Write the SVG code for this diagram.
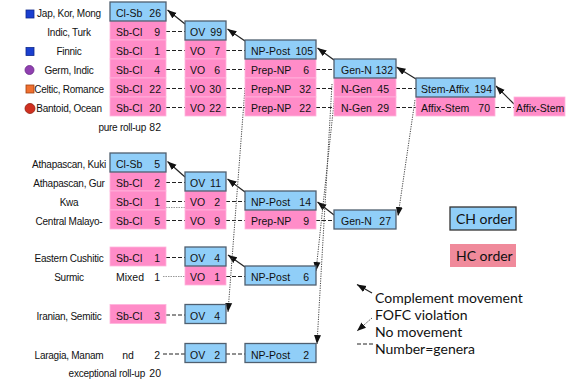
<svg xmlns="http://www.w3.org/2000/svg" width="576" height="380" viewBox="0 0 576 380">
<style>
.ch{fill:#90cef8;stroke:#4f5f6f;stroke-width:1.3}
.hc{fill:#ff8cc8;stroke:#ffb4dc;stroke-width:0.8}
.hcl{fill:#f08a9b}
text{font-family:"Liberation Sans",Arial,sans-serif;font-size:10.5px;fill:#111}
.lab{font-size:10px;text-anchor:middle;letter-spacing:-0.25px}
.n{text-anchor:end}
.dash{stroke:#222;stroke-width:1;stroke-dasharray:4 2;fill:none}
.faint{stroke:#999;stroke-width:1;stroke-dasharray:1.5 1;fill:none}
.mv{stroke:#222;stroke-width:1.2;fill:none;marker-end:url(#ah)}
.fofc{stroke:#444;stroke-width:1;stroke-dasharray:1.2 1.2;fill:none;marker-end:url(#ah)}
.leg{font-family:Lato,"Open Sans",sans-serif;font-size:14px}
</style>
<defs>
<marker id="ah" markerUnits="userSpaceOnUse" markerWidth="10" markerHeight="8" refX="9" refY="4" orient="auto"><path d="M0,0.5 L9,4 L0,7.5 z" fill="#111"/></marker>
</defs>

<!-- language group labels and markers -->
<g id="labels">
<rect x="26" y="10" width="8" height="8" fill="#1a3fd0" stroke="#10288a" stroke-width="0.8"/>
<rect x="26" y="47.5" width="8" height="8" fill="#1a3fd0" stroke="#10288a" stroke-width="0.8"/>
<circle cx="29.5" cy="70" r="4.5" fill="#9040b0" stroke="#6a2a88" stroke-width="0.8"/>
<rect x="26" y="85" width="8" height="8" fill="#f07030" stroke="#a04010" stroke-width="0.8"/>
<circle cx="30" cy="108.5" r="5" fill="#d03020" stroke="#902010" stroke-width="0.8"/>
<text class="lab" x="69" y="17">Jap, Kor, Mong</text>
<text class="lab" x="69" y="36">Indic, Turk</text>
<text class="lab" x="69" y="55">Finnic</text>
<text class="lab" x="69" y="74">Germ, Indic</text>
<text class="lab" x="69" y="93">Celtic, Romance</text>
<text class="lab" x="69" y="112">Bantoid, Ocean</text>
<text class="lab n" x="146" y="131">pure roll-up</text>
<text class="n" x="161" y="131">82</text>
<text class="lab" x="69" y="168">Athapascan, Kuki</text>
<text class="lab" x="69" y="187">Athapascan, Gur</text>
<text class="lab" x="69" y="206">Kwa</text>
<text class="lab" x="69" y="225">Central Malayo-</text>
<text class="lab" x="69" y="262">Eastern Cushitic</text>
<text class="lab" x="69" y="281">Surmic</text>
<text class="lab" x="69" y="319.5">Iranian, Semitic</text>
<text class="lab" x="69" y="358.5">Laragia, Manam</text>
<text class="lab n" x="145" y="376.5">exceptional roll-up</text>
<text class="n" x="161" y="376.5">20</text>
</g>

<!-- connectors: no movement (dashed), complement movement (solid), FOFC violations (dotted) -->
<g id="connectors">
<path class="dash" d="M166,31.5H185 M166,50.5H185 M226,50.5H245 M166,69.5H185 M226,69.5H245 M316,69.5H334 M166,88.5H185 M226,88.5H245 M316,88.5H334 M396,88.5H416 M166,107.5H185 M226,107.5H245 M316,107.5H334 M396,107.5H416 M495,107.5H514"/>
<path class="dash" d="M166,182.5H185 M166,201.5H185 M226,201.5H245 M166,220.5H185 M226,220.5H245 M316,220.5H334"/>
<path class="faint" d="M166,207.5H185 M163,276.5H185"/>
<path class="dash" d="M166,257.5H185 M226,276.5H245 M166,315H185 M163,354H185 M226,354H245"/>
<path class="mv" d="M185,24L167.5,10"/>
<path class="mv" d="M245,41L227.5,29"/>
<path class="mv" d="M334,60L317.5,48"/>
<path class="mv" d="M416,79L396.5,67"/>
<path class="mv" d="M514,104L496,86"/>
<path class="mv" d="M185,177L167.5,161.5"/>
<path class="mv" d="M245,192L227.5,179"/>
<path class="mv" d="M334,215L317.5,202"/>
<path class="mv" d="M245,267L228,255"/>
<path class="fofc" d="M245,88L228,312"/>
<path class="fofc" d="M336,84L316,271"/>
<path class="fofc" d="M332,84L317,344"/>
<path class="fofc" d="M415,100L398,216"/>
</g>

<!-- upper block -->
<g id="n-sbcl-9"><rect class="hc" x="110" y="21" width="56" height="19"/><text x="116" y="36">Sb-Cl</text><text class="n" x="160" y="36">9</text></g>
<g id="n-sbcl-1"><rect class="hc" x="110" y="40" width="56" height="19"/><text x="116" y="55">Sb-Cl</text><text class="n" x="160" y="55">1</text></g>
<g id="n-sbcl-4"><rect class="hc" x="110" y="59" width="56" height="19"/><text x="116" y="74">Sb-Cl</text><text class="n" x="160" y="74">4</text></g>
<g id="n-sbcl-22"><rect class="hc" x="110" y="78" width="56" height="19"/><text x="116" y="93">Sb-Cl</text><text class="n" x="161" y="93">22</text></g>
<g id="n-sbcl-20"><rect class="hc" x="110" y="97" width="56" height="19"/><text x="116" y="112">Sb-Cl</text><text class="n" x="161" y="112">20</text></g>
<g id="n-clsb-26"><rect class="ch" x="110" y="2" width="56" height="19"/><text x="116" y="17">Cl-Sb</text><text class="n" x="161" y="17">26</text></g>

<g id="n-vo-7"><rect class="hc" x="185" y="40" width="41" height="19"/><text x="190" y="55">VO</text><text class="n" x="220" y="55">7</text></g>
<g id="n-vo-6"><rect class="hc" x="185" y="59" width="41" height="19"/><text x="190" y="74">VO</text><text class="n" x="220" y="74">6</text></g>
<g id="n-vo-30"><rect class="hc" x="185" y="78" width="41" height="19"/><text x="190" y="93">VO</text><text class="n" x="221" y="93">30</text></g>
<g id="n-vo-22"><rect class="hc" x="185" y="97" width="41" height="19"/><text x="190" y="112">VO</text><text class="n" x="221" y="112">22</text></g>
<g id="n-ov-99"><rect class="ch" x="185" y="21" width="41" height="19"/><text x="190" y="36">OV</text><text class="n" x="222" y="36">99</text></g>

<g id="n-prepnp-6"><rect class="hc" x="245" y="59" width="71" height="19"/><text x="251" y="74">Prep-NP</text><text class="n" x="309" y="74">6</text></g>
<g id="n-prepnp-32"><rect class="hc" x="245" y="78" width="71" height="19"/><text x="251" y="93">Prep-NP</text><text class="n" x="311" y="93">32</text></g>
<g id="n-prepnp-22"><rect class="hc" x="245" y="97" width="71" height="19"/><text x="251" y="112">Prep-NP</text><text class="n" x="311" y="112">22</text></g>
<g id="n-nppost-105"><rect class="ch" x="245" y="40" width="71" height="19"/><text x="251" y="55">NP-Post</text><text class="n" x="313" y="55">105</text></g>

<g id="n-ngen-45"><rect class="hc" x="334" y="78" width="62" height="19"/><text x="341" y="93">N-Gen</text><text class="n" x="389" y="93">45</text></g>
<g id="n-ngen-29"><rect class="hc" x="334" y="97" width="62" height="19"/><text x="341" y="112">N-Gen</text><text class="n" x="389" y="112">29</text></g>
<g id="n-genn-132"><rect class="ch" x="334" y="59" width="62" height="19"/><text x="341" y="74">Gen-N</text><text class="n" x="393" y="74">132</text></g>

<g id="n-affixstem-70"><rect class="hc" x="416" y="97" width="79" height="19"/><text x="421" y="112">Affix-Stem</text><text class="n" x="490" y="112">70</text></g>
<g id="n-stemaffix-194"><rect class="ch" x="416" y="78" width="79" height="19"/><text x="421" y="93">Stem-Affix</text><text class="n" x="492" y="93">194</text></g>

<g id="n-affixstem"><rect class="hc" x="514" y="97" width="51" height="19" stroke="none"/><text x="516" y="112">Affix-Stem</text></g>

<!-- middle block -->
<g id="n-sbcl-2"><rect class="hc" x="110" y="172" width="56" height="19"/><text x="116" y="187">Sb-Cl</text><text class="n" x="160" y="187">2</text></g>
<g id="n-sbcl-1b"><rect class="hc" x="110" y="191" width="56" height="19"/><text x="116" y="206">Sb-Cl</text><text class="n" x="160" y="206">1</text></g>
<g id="n-sbcl-5"><rect class="hc" x="110" y="210" width="56" height="19"/><text x="116" y="225">Sb-Cl</text><text class="n" x="160" y="225">5</text></g>
<g id="n-clsb-5"><rect class="ch" x="110" y="153" width="56" height="19"/><text x="116" y="168">Cl-Sb</text><text class="n" x="160" y="168">5</text></g>

<g id="n-vo-2"><rect class="hc" x="185" y="191" width="41" height="19"/><text x="190" y="206">VO</text><text class="n" x="220" y="206">2</text></g>
<g id="n-vo-9"><rect class="hc" x="185" y="210" width="41" height="19"/><text x="190" y="225">VO</text><text class="n" x="220" y="225">9</text></g>
<g id="n-ov-11"><rect class="ch" x="185" y="172" width="41" height="19"/><text x="190" y="187">OV</text><text class="n" x="221" y="187">11</text></g>

<g id="n-prepnp-9"><rect class="hc" x="245" y="210" width="71" height="19"/><text x="251" y="225">Prep-NP</text><text class="n" x="309" y="225">9</text></g>
<g id="n-nppost-14"><rect class="ch" x="245" y="191" width="71" height="19"/><text x="251" y="206">NP-Post</text><text class="n" x="311" y="206">14</text></g>

<g id="n-genn-27"><rect class="ch" x="334" y="210" width="62" height="19"/><text x="341" y="225">Gen-N</text><text class="n" x="391" y="225">27</text></g>

<!-- lower blocks -->
<g id="n-sbcl-1c"><rect class="hc" x="110" y="247" width="56" height="19"/><text x="116" y="262">Sb-Cl</text><text class="n" x="160" y="262">1</text></g>
<g id="n-mixed-1"><text x="116" y="281">Mixed</text><text class="n" x="160" y="281">1</text></g>
<g id="n-vo-1"><rect class="hc" x="185" y="266" width="41" height="19"/><text x="190" y="281">VO</text><text class="n" x="220" y="281">1</text></g>
<g id="n-ov-4a"><rect class="ch" x="185" y="247" width="41" height="19"/><text x="190" y="262">OV</text><text class="n" x="220" y="262">4</text></g>
<g id="n-nppost-6"><rect class="ch" x="245" y="266" width="71" height="19"/><text x="251" y="281">NP-Post</text><text class="n" x="309" y="281">6</text></g>

<g id="n-sbcl-3"><rect class="hc" x="110" y="304.5" width="56" height="19"/><text x="116" y="319.5">Sb-Cl</text><text class="n" x="160" y="319.5">3</text></g>
<g id="n-ov-4b"><rect class="ch" x="185" y="304.5" width="41" height="19"/><text x="190" y="319.5">OV</text><text class="n" x="220" y="319.5">4</text></g>

<g id="n-nd-2"><text x="128" y="358.5" text-anchor="middle">nd</text><text class="n" x="160" y="358.5">2</text></g>
<g id="n-ov-2"><rect class="ch" x="185" y="343.5" width="41" height="19"/><text x="190" y="358.5">OV</text><text class="n" x="220" y="358.5">2</text></g>
<g id="n-nppost-2"><rect class="ch" x="245" y="343.5" width="71" height="19"/><text x="251" y="358.5">NP-Post</text><text class="n" x="309" y="358.5">2</text></g>

<!-- key -->
<g id="key-ch"><rect x="450" y="207" width="66" height="23" fill="#90cef8" stroke="#333" stroke-width="1.3"/><text class="leg" x="456" y="224">CH order</text></g>
<g id="key-hc"><rect class="hcl" x="450" y="244" width="66" height="23"/><text class="leg" x="456" y="261">HC order</text></g>
<g id="key-lines">
<path class="mv" d="M372,293L357,284.5"/>
<path class="fofc" d="M372,318L357,331"/>
<path class="dash" d="M357,344H373"/>
<text class="leg" x="375" y="303">Complement movement</text>
<text class="leg" x="375" y="320">FOFC violation</text>
<text class="leg" x="375" y="337">No movement</text>
<text class="leg" x="375" y="354">Number=genera</text>
</g>
</svg>
